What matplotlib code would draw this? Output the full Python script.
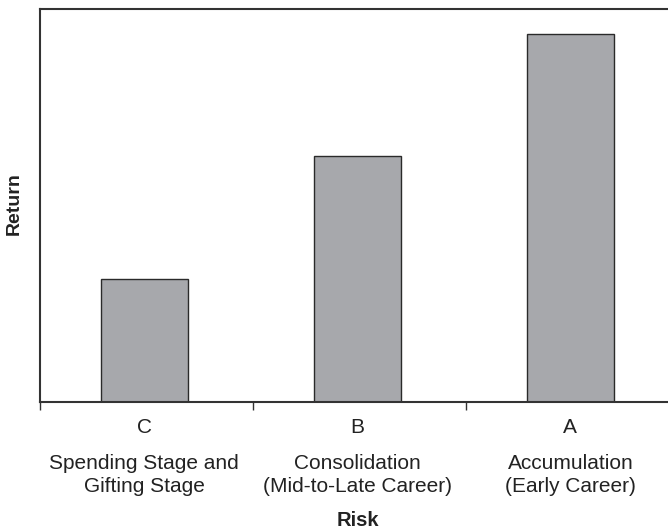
import numpy as np
import matplotlib.pyplot as plt

plt.rcParams['font.family'] = ['Liberation Sans', 'DejaVu Sans']

letters = ["C", "B", "A"]
stages = ["Spending Stage and\nGifting Stage",
          "Consolidation\n(Mid-to-Late Career)",
          "Accumulation\n(Early Career)"]
returns = [1.0, 2.0, 3.0]

fig = plt.figure(figsize=(6.68, 5.28), dpi=100)
ax = fig.add_axes([40 / 668, 1 - 402 / 528, 639 / 668, 393 / 528])

x = np.arange(len(letters))
ax.bar(x - 0.01, returns, width=0.41, color="#a7a8ac", edgecolor="#2a2a2a", linewidth=1.0)

ax.set_xlim(-0.5, 2.5)
ax.set_ylim(0, 3.2)
ax.set_yticks([])
ax.set_xticks([-0.5, 0.5, 1.5, 2.5])
ax.set_xticklabels([])
ax.tick_params(axis="x", length=6, width=1.0, color="#333333")
for s in ["left", "top", "bottom"]:
    ax.spines[s].set_color("#333333")
    ax.spines[s].set_linewidth(1.5)
ax.spines["right"].set_visible(False)

trans = ax.get_xaxis_transform()
for i in range(len(letters)):
    ax.text(i - 0.01, -0.064, letters[i], transform=trans, ha="center", va="center",
            fontsize=15, color="#222222")
    ax.text(i - 0.01, -0.186, stages[i], transform=trans, ha="center", va="center",
            fontsize=15, color="#222222", linespacing=1.3)

fig.text(358 / 668, 1 - 520 / 528, "Risk", ha="center", va="center",
         fontsize=14.5, fontweight="bold", color="#222222")
fig.text(14 / 668, 1 - 204 / 528, "Return", ha="center", va="center",
         rotation=90, fontsize=14, fontweight="bold", color="#222222")

plt.savefig("out.png", dpi=100)
